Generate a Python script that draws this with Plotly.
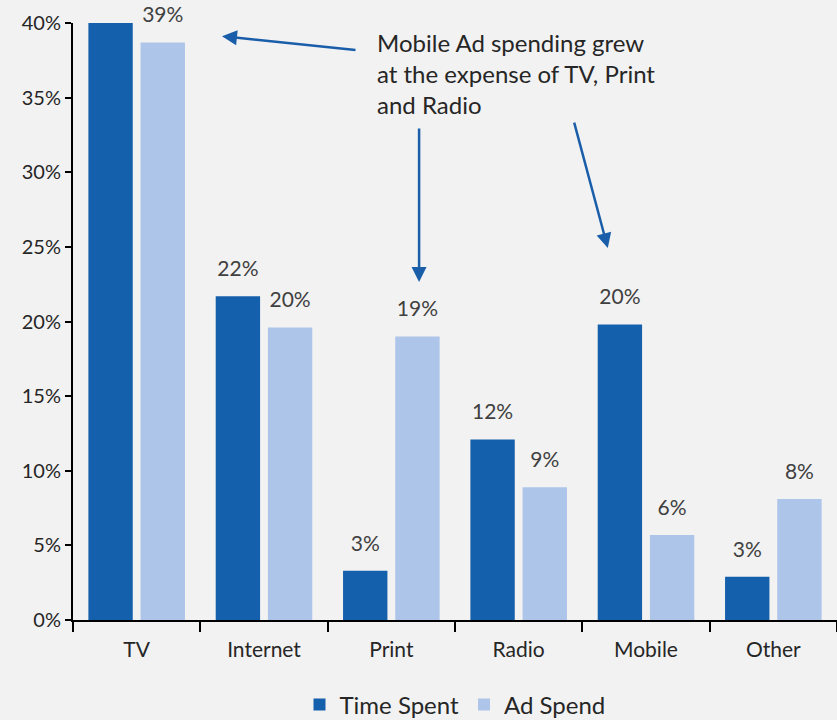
import plotly.graph_objects as go

categories = ["TV", "Internet", "Print", "Radio", "Mobile", "Other"]
time_spent = [43.0, 21.7, 3.3, 12.1, 19.8, 2.9]
ad_spend = [38.7, 19.6, 19.0, 8.9, 5.7, 8.1]
y_ticks = [0, 5, 10, 15, 20, 25, 30, 35, 40]
y_tick_labels = [f"{v}%" for v in y_ticks]
Y_MAX = 40

FONT = "Lato"
DARK = "#1560AC"
LIGHT = "#AEC5EA"
ARROW = "#1A5EAA"


def value_labels(values):
    # bars running past the top of the axis get no label
    return [f"{v:.0f}%" if v <= Y_MAX else "" for v in values]


fig = go.Figure()
for name, vals, color in [("Time Spent", time_spent, DARK), ("Ad Spend", ad_spend, LIGHT)]:
    fig.add_trace(go.Bar(
        name=name, x=categories, y=vals, marker_color=color,
        marker_line_width=0, offsetgroup=name, cliponaxis=True,
        hoverinfo="x+y",
    ))
for name, vals in [("Time Spent", time_spent), ("Ad Spend", ad_spend)]:
    fig.add_trace(go.Scatter(
        name=name, x=categories, y=vals, mode="markers+text",
        text=value_labels(vals), textposition="top center",
        textfont=dict(family=FONT, size=21, color="#404040"),
        marker=dict(size=22, opacity=0), offsetgroup=name,
        cliponaxis=False, showlegend=False, hoverinfo="skip",
    ))

fig.update_layout(
    width=837, height=720,
    margin=dict(l=73, r=0, t=23, b=100, autoexpand=False),
    paper_bgcolor="#F2F2F2", plot_bgcolor="#F2F2F2",
    barmode="group", bargap=0.18, bargroupgap=0.15,
    scattermode="group", scattergap=0.18,
    font=dict(family=FONT, size=20, color="#262626"),
    showlegend=True,
    legend=dict(orientation="h", x=0.5, xanchor="center",
                yref="container", y=0.021, yanchor="middle",
                font=dict(family=FONT, size=24, color="#262626"),
                itemwidth=30, traceorder="normal"),
)
fig.update_xaxes(
    showline=True, linecolor="black", linewidth=2,
    ticks="outside", tickson="boundaries", ticklen=10, tickcolor="black", tickwidth=1.5,
    tickfont=dict(family=FONT, size=21, color="#262626"), ticklabelstandoff=10,
    showgrid=False, zeroline=False,
)
fig.update_yaxes(
    range=[0, Y_MAX], tickvals=y_ticks, ticktext=y_tick_labels,
    showline=True, linecolor="black", linewidth=2,
    ticks="outside", ticklen=6, tickcolor="black", tickwidth=1.5,
    tickfont=dict(family=FONT, size=20, color="#262626"),
    showgrid=False, zeroline=False,
)

fig.add_annotation(
    xref="paper", yref="paper", x=0.395, y=0.995, xanchor="left", yanchor="top",
    text="Mobile Ad spending grew<br>at the expense of TV, Print<br>and Radio",
    align="left", showarrow=False,
    font=dict(family=FONT, size=24, color="#262626"),
)
arrows = [
    (0.195, 0.978, 135, 14),
    (0.453, 0.566, 0, -155),
    (0.700, 0.623, -34, -127),
]
for hx, hy, ax, ay in arrows:
    fig.add_annotation(
        xref="paper", yref="paper", x=hx, y=hy, ax=ax, ay=ay, text="",
        showarrow=True, arrowhead=2, arrowsize=1.2, arrowwidth=2.5,
        arrowcolor=ARROW, standoff=0,
    )

fig.write_html("out.html")
